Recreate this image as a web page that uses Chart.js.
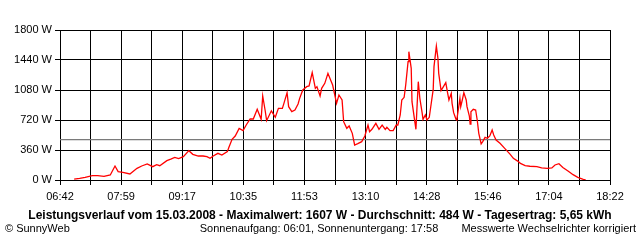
<!DOCTYPE html>
<html>
<head>
<meta charset="utf-8">
<script src="https://cdn.jsdelivr.net/npm/chart.js@4.4.1/dist/chart.umd.min.js"></script>
<style>
  html, body { margin: 0; padding: 0; background: #fff; }
</style>
</head>
<body>
<canvas id="myChart" width="640" height="240"></canvas>
<script>
/*
-------------------------------------
/// data
-------------------------------------
*/
// clock time in minutes since midnight
const times = [
  420,427,434,443,450,458,466,472,476,482,
  491,500,506,513,520,525,529,538,543,548,
  553,559,566,571,578,584,589,593,597,603,
  608,615,617,621,625,630,635,639,644,648,
  653,655,658,660,663,665,671,676,680,685,
  687,691,693,697,701,705,707,711,716,719,
  723,727,729,733,735,739,743,746,749,752,
  754,757,761,763,767,770,774,777,781,786,
  790,794,796,799,804,808,812,816,818,822,
  826,830,832,835,837,840,842,845,846,849,
  850,853,855,856,858,860,863,864,867,869,
  872,874,877,878,881,883,884,887,890,893,
  895,897,900,901,903,906,907,909,911,912,
  914,916,919,920,923,924,925,928,931,933,
  935,938,940,943,946,949,952,954,957,962,
  968,975,979,984,988,994,1000,1009,1015,1022,
  1028,1032,1037,1042,1049,1055,1061,1068,1071
];
const watts = [
  10,20,32,52,52,44,60,168,100,92,
  72,140,168,192,160,184,172,232,250,272,
  256,280,352,308,288,288,280,260,288,320,
  300,340,392,488,528,620,592,660,732,732,
  848,800,728,1008,840,712,830,752,860,860,
  920,1048,880,820,840,912,980,1080,1120,1128,
  1290,1100,1120,1008,1100,1160,1280,1208,1140,1008,
  920,1020,960,700,620,648,560,420,436,460,
  528,660,580,608,680,608,660,608,632,592,
  592,660,660,780,960,992,1140,1420,1540,1340,
  940,740,608,800,1180,980,800,728,780,720,
  752,888,1088,1360,1607,1460,1280,1072,1120,1168,
  1060,960,1040,920,808,728,720,848,980,880,
  960,1048,960,880,768,672,820,848,840,720,
  560,432,460,512,500,528,600,540,480,440,
  380,308,260,230,200,172,165,160,145,140,
  145,180,196,150,105,64,32,8,0
];
const avgW = 484;

const xStart = 402;   // 06:42
const xEnd = 1102;    // 18:22
const xLabels = ['06:42','07:59','09:17','10:35','11:53','13:10','14:28','15:46','17:04','18:22'];
const yTicks = [0, 360, 720, 1080, 1440, 1800];
const yLabels = ['0 W','360 W','720 W','1080 W','1440 W','1800 W'];

const titleLine = 'Leistungsverlauf vom 15.03.2008 - Maximalwert: 1607 W - Durchschnitt: 484 W - Tagesertrag: 5,65 kWh';
const copyText = '\u00A9 SunnyWeb';
const sunText = 'Sonnenaufgang: 06:01, Sonnenuntergang: 17:58';
const noteText = 'Messwerte Wechselrichter korrigiert';

/*
-------------------------------------
/// footer texts
-------------------------------------
*/
const footerText = {
  id: 'footerText',
  afterDraw(chart) {
    const c = chart.ctx;
    c.save();
    c.fillStyle = '#000';
    c.textBaseline = 'middle';
    c.font = 'bold 12px "Liberation Sans"';
    c.textAlign = 'center';
    c.fillText(titleLine, 320, 216);
    c.font = '11px "Liberation Sans"';
    c.textAlign = 'left';
    c.fillText(copyText, 5, 229);
    c.textAlign = 'center';
    c.fillText(sunText, 319, 229);
    c.textAlign = 'right';
    c.fillText(noteText, 636, 229);
    c.restore();
  }
};

/*
-------------------------------------
/// chart
-------------------------------------
*/
Chart.defaults.font.family = '"Liberation Sans", Arial, sans-serif';
Chart.defaults.font.size = 11;
Chart.defaults.color = '#000';

var ctx = document.getElementById('myChart').getContext('2d');
var myChart = new Chart(ctx, {
  type: 'line',
  data: {
    datasets: [{
      label: 'Leistung',
      data: times.map((t, i) => ({x: t, y: watts[i]})),
      borderColor: '#ff0000',
      borderWidth: 1.3,
      pointRadius: 0,
      tension: 0,
      fill: false,
      order: 1
    }, {
      label: 'Durchschnitt',
      data: [{x: xStart, y: avgW}, {x: xEnd, y: avgW}],
      borderColor: '#7a7a7a',
      borderWidth: 1.2,
      pointRadius: 0,
      fill: false,
      order: 2
    }]
  },
  options: {
    responsive: false,
    animation: false,
    events: [],
    layout: { padding: { left: 0, top: 30, right: 30, bottom: 0 } },
    plugins: { legend: { display: false }, tooltip: { enabled: false } },
    scales: {
      x: {
        type: 'linear',
        min: xStart,
        max: xEnd,
        afterBuildTicks: s => {
          s.ticks = [];
          for (let i = 0; i <= 18; i++) s.ticks.push({value: xStart + i * (xEnd - xStart) / 18});
        },
        afterFit: s => { s.height = 60; },
        grid: { color: '#000', lineWidth: 1, tickLength: 5, tickColor: '#000' },
        border: { color: '#000', width: 1 },
        ticks: {
          autoSkip: false,
          maxRotation: 0,
          padding: 5,
          callback: (v, i) => i % 2 === 0 ? xLabels[i / 2] : ''
        }
      },
      y: {
        min: 0,
        max: 1800,
        afterBuildTicks: s => { s.ticks = yTicks.map(v => ({value: v})); },
        afterFit: s => { s.width = 60; },
        grid: { color: '#000', lineWidth: 1, tickLength: 5, tickColor: '#000' },
        border: { color: '#000', width: 1 },
        ticks: {
          autoSkip: false,
          padding: 3,
          callback: (v, i) => yLabels[i]
        }
      }
    }
  },
  plugins: [footerText]
});
</script>
</body>
</html>
